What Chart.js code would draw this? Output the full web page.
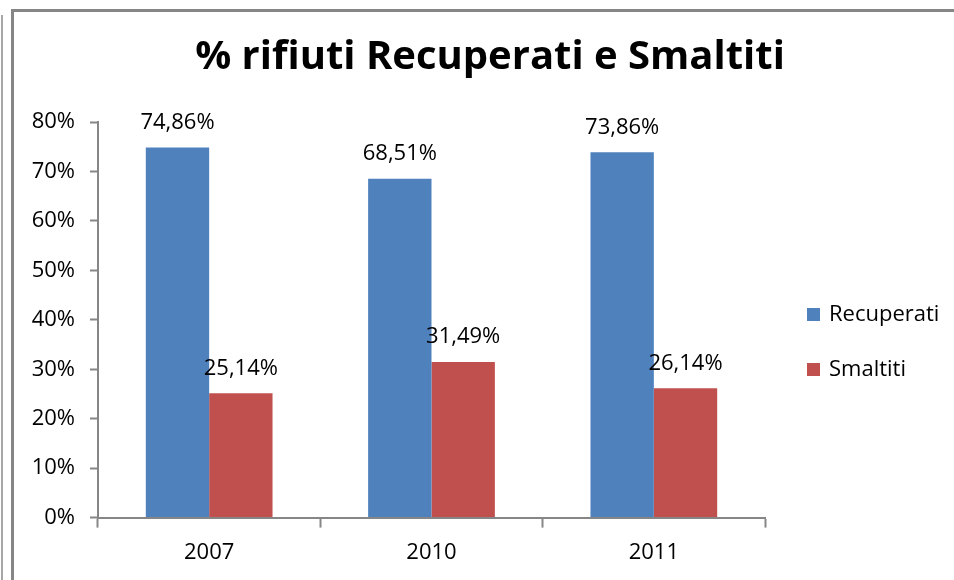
<!DOCTYPE html>
<html lang="it">
<head>
<meta charset="utf-8">
<title>% rifiuti Recuperati e Smaltiti</title>
<script src="https://cdn.jsdelivr.net/npm/chart.js@4/dist/chart.umd.min.js"></script>
<style>
  html, body { margin: 0; padding: 0; background: #fff; }
  #wrap { position: relative; width: 954px; height: 580px; overflow: hidden; }
  #chart { position: absolute; left: 0; top: 0; }
  .frame-outer { position: absolute; left: 1px; top: 15px; width: 2px; height: 600px; background: #a6a6a6; }
  .frame-inner { position: absolute; left: 11px; top: 9px; width: 1000px; height: 600px;
                 border-left: 3px solid #868686; border-top: 3px solid #868686; }
</style>
</head>
<body>
<div id="wrap">
  <canvas id="chart" width="954" height="580"></canvas>
  <div class="frame-outer"></div>
  <div class="frame-inner"></div>
</div>
<script>
const years = ['2007', '2010', '2011'];
const recuperati = [74.86, 68.51, 73.86];
const smaltiti = [25.14, 31.49, 26.14];
const yTicks = [0, 10, 20, 30, 40, 50, 60, 70, 80];
const chartTitle = '% rifiuti Recuperati e Smaltiti';

const FONT = "'Open Sans', 'Noto Sans', sans-serif";

function fmt(v) {
  return v.toFixed(2).replace('.', ',') + '%';
}

// titolo, etichette sopra le barre e legenda a destra
const labelsPlugin = {
  id: 'barLabels',
  afterDatasetsDraw(chart) {
    const ctx = chart.ctx;
    ctx.save();

    ctx.fillStyle = '#000';
    ctx.font = 'bold 40px ' + FONT;
    ctx.textAlign = 'center';
    ctx.textBaseline = 'middle';
    ctx.fillText(chartTitle, 490, 58);

    ctx.font = '22px ' + FONT;
    chart.data.datasets.forEach((ds, i) => {
      chart.getDatasetMeta(i).data.forEach((bar, j) => {
        ctx.fillText(fmt(ds.data[j]), bar.x, bar.y - 25);
      });
    });

    // legenda
    const lx = 807, ly = [315, 370];
    ctx.textAlign = 'left';
    chart.data.datasets.forEach((ds, i) => {
      ctx.fillStyle = ds.backgroundColor;
      ctx.fillRect(lx, ly[i] - 7, 13, 13);
      ctx.fillStyle = '#000';
      ctx.fillText(ds.label, lx + 22, ly[i]);
    });
    ctx.restore();
  }
};

const ctx = document.getElementById('chart').getContext('2d');
const chart = new Chart(ctx, {
  type: 'bar',
  data: {
    labels: years,
    datasets: [
      { label: 'Recuperati', data: recuperati, backgroundColor: '#4F81BD' },
      { label: 'Smaltiti', data: smaltiti, backgroundColor: '#C0504D' }
    ]
  },
  options: {
    responsive: false,
    animation: false,
    devicePixelRatio: 1,
    layout: { padding: { left: 14, right: 189, top: 122, bottom: 2 } },
    datasets: {
      bar: { categoryPercentage: 0.57, barPercentage: 1.0 }
    },
    plugins: {
      legend: { display: false },
      tooltip: { enabled: false },
      title: { display: false }
    },
    scales: {
      x: {
        grid: {
          offset: true,
          drawOnChartArea: false,
          tickLength: 10,
          tickColor: '#868686',
          tickWidth: 2
        },
        border: { color: '#868686', width: 2 },
        ticks: { color: '#000', font: { family: FONT, size: 22 }, padding: 12 }
      },
      y: {
        min: 0,
        max: 80,
        afterBuildTicks(scale) {
          scale.ticks = yTicks.map(v => ({ value: v }));
        },
        afterFit(scale) { scale.width = 84; },
        grid: {
          drawOnChartArea: false,
          tickLength: 8,
          tickColor: '#868686',
          tickWidth: 2
        },
        border: { color: '#868686', width: 2 },
        ticks: {
          color: '#000',
          font: { family: FONT, size: 22 },
          padding: 15,
          callback: v => v + '%'
        }
      }
    }
  },
  plugins: [labelsPlugin]
});
</script>
</body>
</html>
